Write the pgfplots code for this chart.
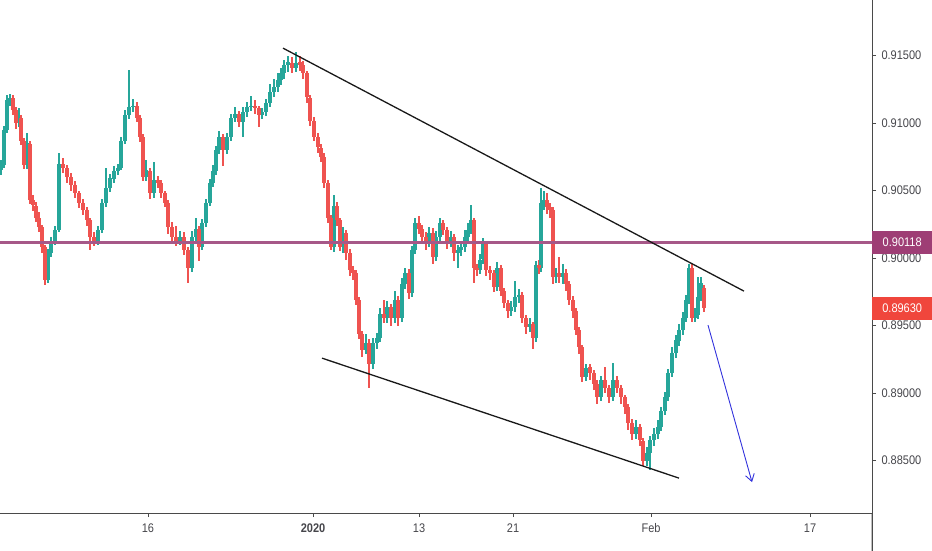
\documentclass[border=0pt]{standalone}
\usepackage{pgfplots}
\pgfplotsset{compat=1.18}
\usepackage{pgfplotstable}
\usepackage{fontspec}
\usetikzlibrary{arrows.meta}
\newfontfamily\tvfont[FakeStretch=0.88]{Liberation Sans}
\definecolor{tvgreen}{RGB}{38,166,154}
\definecolor{tvred}{RGB}{239,83,80}
\definecolor{hline}{RGB}{166,88,136}
\definecolor{hbox}{RGB}{158,62,117}
\definecolor{pbox}{RGB}{240,70,60}
\definecolor{axgray}{RGB}{74,74,74}
\definecolor{txtgray}{RGB}{70,70,75}
\definecolor{arrowblue}{RGB}{50,50,220}
\pgfplotstableread{
x o h l c
1 0.9065 0.9073 0.9062 0.9069
4 0.9069 0.9098 0.9067 0.9095
7 0.9095 0.9121 0.9093 0.9117
10 0.9117 0.9122 0.9113 0.9119
13 0.9119 0.9121 0.9106 0.9110
16 0.9110 0.9112 0.9096 0.9100
19 0.9100 0.9111 0.9097 0.9104
21 0.9104 0.9106 0.9084 0.9087
24 0.9087 0.9089 0.9066 0.9069
27 0.9069 0.9093 0.9066 0.9085
30 0.9085 0.9087 0.9040 0.9043
33 0.9043 0.9047 0.9035 0.9039
36 0.9039 0.9042 0.9027 0.9030
39 0.9030 0.9034 0.9019 0.9023
42 0.9023 0.9025 0.9004 0.9008
45 0.9008 0.9010 0.8980 0.8984
48 0.8984 0.9007 0.8982 0.9004
51 0.9004 0.9016 0.9001 0.9013
55 0.9013 0.9024 0.9010 0.9021
59 0.9021 0.9078 0.9019 0.9070
63 0.9070 0.9074 0.9063 0.9067
67 0.9067 0.9069 0.9056 0.9060
71 0.9060 0.9063 0.9050 0.9054
75 0.9054 0.9057 0.9045 0.9048
79 0.9048 0.9050 0.9037 0.9041
83 0.9041 0.9044 0.9032 0.9036
87 0.9036 0.9038 0.9024 0.9028
90 0.9028 0.9030 0.9006 0.9016
94 0.9016 0.9019 0.9009 0.9013
98 0.9013 0.9024 0.9010 0.9021
102 0.9021 0.9044 0.9019 0.9041
106 0.9041 0.9067 0.9038 0.9052
110 0.9052 0.9062 0.9049 0.9059
114 0.9059 0.9068 0.9056 0.9065
118 0.9065 0.9070 0.9062 0.9067
121 0.9067 0.9090 0.9065 0.9087
125 0.9087 0.9110 0.9085 0.9106
129 0.9106 0.9139 0.9103 0.9112
133 0.9112 0.9118 0.9108 0.9113
137 0.9113 0.9116 0.9101 0.9104
140 0.9104 0.9106 0.9086 0.9090
143 0.9090 0.9092 0.9057 0.9060
146 0.9060 0.9073 0.9057 0.9065
150 0.9065 0.9067 0.9044 0.9048
154 0.9048 0.9071 0.9045 0.9058
158 0.9058 0.9061 0.9052 0.9056
161 0.9056 0.9058 0.9045 0.9048
165 0.9048 0.9050 0.9038 0.9041
168 0.9041 0.9043 0.9018 0.9023
172 0.9023 0.9027 0.9012 0.9016
176 0.9016 0.9024 0.9009 0.9013
180 0.9013 0.9020 0.9010 0.9016
184 0.9016 0.9019 0.9002 0.9006
188 0.9006 0.9008 0.8982 0.8993
192 0.8993 0.9020 0.8990 0.9016
196 0.9016 0.9030 0.9013 0.9022
199 0.9022 0.9024 0.8998 0.9008
202 0.9008 0.9029 0.9006 0.9026
206 0.9026 0.9044 0.9023 0.9041
210 0.9041 0.9059 0.9039 0.9056
213 0.9056 0.9069 0.9053 0.9065
216 0.9065 0.9083 0.9062 0.9080
219 0.9080 0.9094 0.9077 0.9090
223 0.9090 0.9092 0.9068 0.9080
227 0.9080 0.9093 0.9077 0.9090
231 0.9090 0.9107 0.9087 0.9104
235 0.9104 0.9112 0.9101 0.9107
239 0.9107 0.9109 0.9097 0.9101
243 0.9101 0.9112 0.9090 0.9108
247 0.9108 0.9116 0.9105 0.9112
251 0.9112 0.9120 0.9109 0.9113
255 0.9113 0.9117 0.9107 0.9111
259 0.9111 0.9113 0.9097 0.9106
262 0.9106 0.9111 0.9103 0.9108
266 0.9108 0.9118 0.9105 0.9115
270 0.9115 0.9129 0.9112 0.9123
274 0.9123 0.9133 0.9119 0.9127
278 0.9127 0.9137 0.9123 0.9132
281 0.9132 0.9141 0.9128 0.9137
284 0.9137 0.9147 0.9133 0.9143
288 0.9143 0.9150 0.9138 0.9145
292 0.9145 0.9149 0.9137 0.9141
296 0.9141 0.9153 0.9138 0.9145
300 0.9145 0.9150 0.9139 0.9143
303 0.9143 0.9146 0.9133 0.9137
307 0.9137 0.9139 0.9115 0.9119
310 0.9119 0.9121 0.9098 0.9102
314 0.9102 0.9105 0.9087 0.9090
318 0.9090 0.9093 0.9078 0.9082
321 0.9082 0.9085 0.9071 0.9075
324 0.9075 0.9078 0.9052 0.9056
328 0.9056 0.9058 0.9026 0.9030
331 0.9030 0.9032 0.9006 0.9008
334 0.9008 0.9047 0.9005 0.9039
337 0.9039 0.9042 0.9024 0.9028
340 0.9028 0.9030 0.9005 0.9008
343 0.9008 0.9023 0.9004 0.9019
346 0.9019 0.9021 0.8999 0.9004
350 0.9004 0.9007 0.8987 0.8991
353 0.8991 0.8994 0.8984 0.8989
356 0.8989 0.8991 0.8965 0.8969
359 0.8969 0.8971 0.8940 0.8944
362 0.8944 0.8946 0.8927 0.8932
366 0.8932 0.8944 0.8929 0.8937
369 0.8937 0.8940 0.8904 0.8922
373 0.8922 0.8941 0.8918 0.8937
377 0.8937 0.8945 0.8933 0.8941
380 0.8941 0.8963 0.8938 0.8959
384 0.8959 0.8969 0.8952 0.8956
387 0.8956 0.8968 0.8952 0.8964
391 0.8964 0.8966 0.8950 0.8956
395 0.8956 0.8976 0.8952 0.8969
398 0.8969 0.8972 0.8950 0.8956
402 0.8956 0.8985 0.8953 0.8981
405 0.8981 0.8993 0.8977 0.8989
409 0.8989 0.8992 0.8970 0.8974
412 0.8974 0.9009 0.8971 0.9006
415 0.9006 0.9030 0.9003 0.9026
419 0.9026 0.9031 0.9018 0.9022
422 0.9022 0.9025 0.9012 0.9016
426 0.9016 0.9019 0.9006 0.9011
429 0.9011 0.9023 0.9008 0.9019
433 0.9019 0.9022 0.8996 0.9001
436 0.9001 0.9020 0.8998 0.9016
440 0.9016 0.9030 0.9013 0.9026
443 0.9026 0.9028 0.9017 0.9021
447 0.9021 0.9023 0.9007 0.9011
451 0.9011 0.9020 0.9008 0.9016
454 0.9016 0.9018 0.8998 0.9004
458 0.9004 0.9010 0.8993 0.9006
461 0.9006 0.9013 0.9002 0.9008
465 0.9008 0.9021 0.9005 0.9016
468 0.9016 0.9026 0.9013 0.9021
471 0.9021 0.9039 0.9018 0.9028
474 0.9028 0.9030 0.8982 0.8993
477 0.8993 0.8996 0.8987 0.8991
480 0.8991 0.9003 0.8988 0.8999
483 0.8999 0.9015 0.8996 0.9011
486 0.9011 0.9013 0.8987 0.8991
490 0.8991 0.8994 0.8984 0.8989
494 0.8989 0.8991 0.8975 0.8979
497 0.8979 0.8997 0.8976 0.8993
501 0.8993 0.8995 0.8972 0.8976
504 0.8976 0.8978 0.8963 0.8967
508 0.8967 0.8969 0.8956 0.8961
511 0.8961 0.8968 0.8957 0.8964
515 0.8964 0.8983 0.8960 0.8971
519 0.8971 0.8977 0.8967 0.8973
522 0.8973 0.8975 0.8952 0.8956
526 0.8956 0.8958 0.8944 0.8949
530 0.8949 0.8956 0.8945 0.8951
533 0.8951 0.8953 0.8933 0.8941
536 0.8941 0.8998 0.8938 0.8995
539 0.8995 0.8999 0.8988 0.8993
541 0.8993 0.9052 0.8990 0.9041
544 0.9041 0.9050 0.9036 0.9043
547 0.9043 0.9048 0.9033 0.9038
550 0.9038 0.9041 0.9030 0.9036
553 0.9036 0.9038 0.8981 0.8986
556 0.8986 0.8993 0.8982 0.8989
559 0.8989 0.9001 0.8982 0.8986
563 0.8986 0.8996 0.8981 0.8989
566 0.8989 0.8992 0.8976 0.8981
569 0.8981 0.8983 0.8965 0.8969
573 0.8969 0.8972 0.8956 0.8961
576 0.8961 0.8963 0.8943 0.8947
579 0.8947 0.8949 0.8929 0.8934
582 0.8934 0.8936 0.8908 0.8912
586 0.8912 0.8922 0.8909 0.8919
590 0.8919 0.8922 0.8910 0.8915
594 0.8915 0.8917 0.8902 0.8907
597 0.8907 0.8910 0.8892 0.8897
601 0.8897 0.8913 0.8894 0.8910
605 0.8910 0.8919 0.8900 0.8904
609 0.8904 0.8906 0.8893 0.8897
613 0.8897 0.8922 0.8894 0.8910
617 0.8910 0.8913 0.8900 0.8904
621 0.8904 0.8906 0.8892 0.8897
625 0.8897 0.8899 0.8885 0.8890
628 0.8890 0.8892 0.8873 0.8878
632 0.8878 0.8881 0.8865 0.8870
636 0.8870 0.8880 0.8866 0.8875
640 0.8875 0.8877 0.8861 0.8865
643 0.8865 0.8867 0.8846 0.8850
647 0.8850 0.8860 0.8846 0.8856
650 0.8856 0.8868 0.8843 0.8865
654 0.8865 0.8874 0.8861 0.8870
658 0.8870 0.8880 0.8866 0.8875
661 0.8875 0.8890 0.8872 0.8887
665 0.8887 0.8901 0.8884 0.8897
668 0.8897 0.8918 0.8894 0.8915
672 0.8915 0.8934 0.8912 0.8930
676 0.8930 0.8943 0.8926 0.8939
679 0.8939 0.8951 0.8935 0.8947
683 0.8947 0.8960 0.8943 0.8956
686 0.8956 0.8973 0.8953 0.8969
689 0.8969 0.8996 0.8966 0.8993
692 0.8993 0.8996 0.8953 0.8956
695 0.8956 0.8963 0.8953 0.8958
698 0.8958 0.8986 0.8955 0.8971
701 0.8971 0.8986 0.8968 0.8982
704 0.8978 0.8980 0.8960 0.8963
}\candles
\begin{document}
\begin{tikzpicture}
\useasboundingbox (0,0) rectangle (932pt,550pt);
\begin{axis}[
  at={(0pt,37pt)}, anchor=south west,
  width=872pt, height=513pt, scale only axis,
  xmin=0, xmax=872, ymin=0.88111, ymax=0.91911,
  enlargelimits=false, clip=false,
  axis x line*=bottom, axis y line*=right,
  axis line style={axgray, line width=1pt},
  tick align=outside, major tick length=4pt,
  tick style={axgray, line width=0.8pt},
  xtick={148,313,419,513,651,810},
  xticklabels={16,\textbf{2020},13,21,Feb,17},
  ytick={0.885,0.890,0.895,0.900,0.905,0.910,0.915},
  yticklabels={0.88500,0.89000,0.89500,0.90000,0.90500,0.91000,0.91500},
  ticklabel style={font=\tvfont\fontsize{12.5}{13}\selectfont, text=txtgray},
  xticklabel style={yshift=-3pt},
  yticklabel style={anchor=west, xshift=2pt},
  candle/.style={draw=none, no markers, forget plot,
    error bars/y dir=both, error bars/y explicit, error bars/error mark=none},
]
% wicks
\addplot[candle,
  restrict expr to domain={(\thisrow{c}-\thisrow{o})*10000}{0:1000},
  error bars/error bar style={draw=tvgreen, line width=1.1pt}]
  table[x=x, y expr={(\thisrow{h}+\thisrow{l})/2}, y error expr={(\thisrow{h}-\thisrow{l})/2}] {\candles};
\addplot[candle,
  restrict expr to domain={(\thisrow{c}-\thisrow{o})*10000}{-1000:-0.5},
  error bars/error bar style={draw=tvred, line width=1.1pt}]
  table[x=x, y expr={(\thisrow{h}+\thisrow{l})/2}, y error expr={(\thisrow{h}-\thisrow{l})/2}] {\candles};
% bodies
\addplot[candle,
  restrict expr to domain={(\thisrow{c}-\thisrow{o})*10000}{0:1000},
  error bars/error bar style={draw=tvgreen, line width=3.1pt}]
  table[x=x, y expr={(\thisrow{o}+\thisrow{c})/2}, y error expr={max(abs(\thisrow{c}-\thisrow{o})/2,0.00002)}] {\candles};
\addplot[candle,
  restrict expr to domain={(\thisrow{c}-\thisrow{o})*10000}{-1000:-0.5},
  error bars/error bar style={draw=tvred, line width=3.1pt}]
  table[x=x, y expr={(\thisrow{o}+\thisrow{c})/2}, y error expr={max(abs(\thisrow{c}-\thisrow{o})/2,0.00002)}] {\candles};
% horizontal level
\addplot[hline, line width=2.6pt] coordinates {(0,0.90118) (872,0.90118)};
% channel lines
\addplot[black!90, line width=1.3pt] coordinates {(283,0.915556) (744,0.897556)};
\addplot[black!90, line width=1.3pt] coordinates {(322,0.892593) (679,0.883704)};
% arrow
\addplot[arrowblue, line width=0.9pt, -{Straight Barb[length=7pt,width=9pt]}] coordinates {(708,0.89504) (752,0.88341)};
% axis extensions
\draw[axgray, line width=1pt] (rel axis cs:1,0) -- ++(0,-37pt);
\draw[axgray, line width=1pt] (rel axis cs:1,0) -- ++(60pt,0);
% price labels
\node[fill=hbox, text=white, anchor=west, minimum width=60pt, minimum height=23pt, inner sep=0pt,
  font=\tvfont\fontsize{12.5}{13}\selectfont] at (axis cs:872,0.90118) {0.90118};
\node[fill=pbox, text=white, anchor=west, minimum width=60pt, minimum height=23pt, inner sep=0pt,
  font=\tvfont\fontsize{12.5}{13}\selectfont] at (axis cs:872,0.89630) {0.89630};
\end{axis}
\end{tikzpicture}
\end{document}
